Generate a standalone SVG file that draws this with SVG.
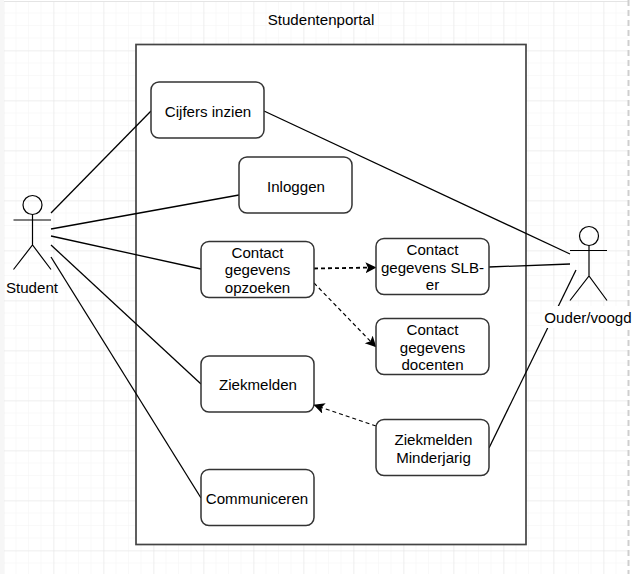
<svg xmlns="http://www.w3.org/2000/svg" width="636" height="574" viewBox="0 0 636 574">
<defs>
<pattern id="minor" width="12.5" height="12.5" patternUnits="userSpaceOnUse" x="4" y="1"><path d="M12.5 0V12.5M0 12.5H12.5" fill="none" stroke="#f4f4f4" stroke-width="1"/></pattern>
<pattern id="major" width="50" height="50" patternUnits="userSpaceOnUse" x="4.500" y="1.500"><path d="M50 0V50M0 50H50" fill="none" stroke="#e4e4e4" stroke-width="1"/></pattern>
<marker id="arrow" markerUnits="userSpaceOnUse" markerWidth="12" markerHeight="12" refX="10.500" refY="5.500" orient="auto"><path d="M0 0L11 5.500L0 11L2.500 5.500Z" fill="#000"/></marker>
</defs>
<style>
text{font-family:"Liberation Sans",Arial,sans-serif;font-size:15.100px;fill:#000;text-anchor:middle}
.n{fill:#fff;stroke:#333;stroke-width:1.500}
.l{fill:none;stroke:#000;stroke-width:1.300}
.d{fill:none;stroke:#000;stroke-width:1.200;stroke-dasharray:4 3;marker-end:url(#arrow)}
.a{fill:none;stroke:#000;stroke-width:1.200}
</style>
<rect width="636" height="574" fill="#fff"/>
<rect x="4" y="1" width="624" height="573" fill="url(#minor)"/>
<rect x="4" y="1" width="624" height="573" fill="url(#major)"/>
<path d="M4 1.500H628" stroke="#e4e4e4" stroke-width="1"/>
<rect x="0" y="0" width="4" height="574" fill="#f6f6f6"/>
<path d="M628.500 0V574" stroke="#cfcfcf" stroke-width="2" stroke-dasharray="6 4"/>
<g id="boundary"><rect x="136" y="44.500" width="390" height="500" fill="#fff" stroke="#444" stroke-width="1.700"/><text x="321" y="25">Studentenportal</text></g>
<g id="connectors">
<path class="l" d="M51 213L151 111"/>
<path class="l" d="M51 229L239 195"/>
<path class="l" d="M51 236L201 269"/>
<path class="l" d="M51 245L201 384"/>
<path class="l" d="M51 257L201 498"/>
<path class="l" d="M264 111L570 254"/>
<path class="l" d="M489 267L570 264"/>
<path class="l" d="M489 448L576 270"/>
<path class="d" style="stroke-width:1.800" d="M314 268.500L376 267.500"/>
<path class="d" d="M314 283L376 347"/>
<path class="d" d="M376 426L314 405"/>
</g>
<g id="cijfers"><rect class="n" x="151" y="82" width="113" height="56" rx="8"/><text x="208" y="117">Cijfers inzien</text></g>
<g id="inloggen"><rect class="n" x="239" y="157" width="113" height="56" rx="8"/><text x="296" y="192">Inloggen</text></g>
<g id="contact-opzoeken"><rect class="n" x="201" y="241.500" width="113" height="56" rx="8"/><text x="257.500" y="258">Contact</text><text x="257.500" y="275">gegevens</text><text x="257.500" y="293">opzoeken</text></g>
<g id="contact-slb"><rect class="n" x="376" y="238.500" width="113" height="56" rx="8"/><text x="432.500" y="255">Contact</text><text x="432.500" y="273">gegevens SLB-</text><text x="432.500" y="290">er</text></g>
<g id="contact-docenten"><rect class="n" x="376" y="318.500" width="113" height="56" rx="8"/><text x="432.500" y="335">Contact</text><text x="432.500" y="353">gegevens</text><text x="432.500" y="370">docenten</text></g>
<g id="ziekmelden"><rect class="n" x="201" y="356" width="113" height="56" rx="8"/><text x="258" y="390">Ziekmelden</text></g>
<g id="ziekmelden-minderjarig"><rect class="n" x="376" y="419.500" width="113" height="56" rx="8"/><text x="433.500" y="445">Ziekmelden</text><text x="433.500" y="463">Minderjarig</text></g>
<g id="communiceren"><rect class="n" x="201" y="469.500" width="113" height="56" rx="8"/><text x="257" y="504">Communiceren</text></g>
<g id="student"><circle class="a" cx="32.500" cy="205" r="9.500"/><path class="a" d="M32.500 214.500V245M13.500 220H51M13.500 269.500L32.500 245L51 269.500"/><text x="32" y="293">Student</text></g>
<g id="ouder"><circle class="a" cx="589" cy="236" r="9.500"/><path class="a" d="M589 245.500V276M570 250.500H607M570 300.500L589 276L607 300.500"/><rect x="544" y="306" width="88" height="22" fill="#fff"/><text x="588" y="323">Ouder/voogd</text></g>
</svg>
